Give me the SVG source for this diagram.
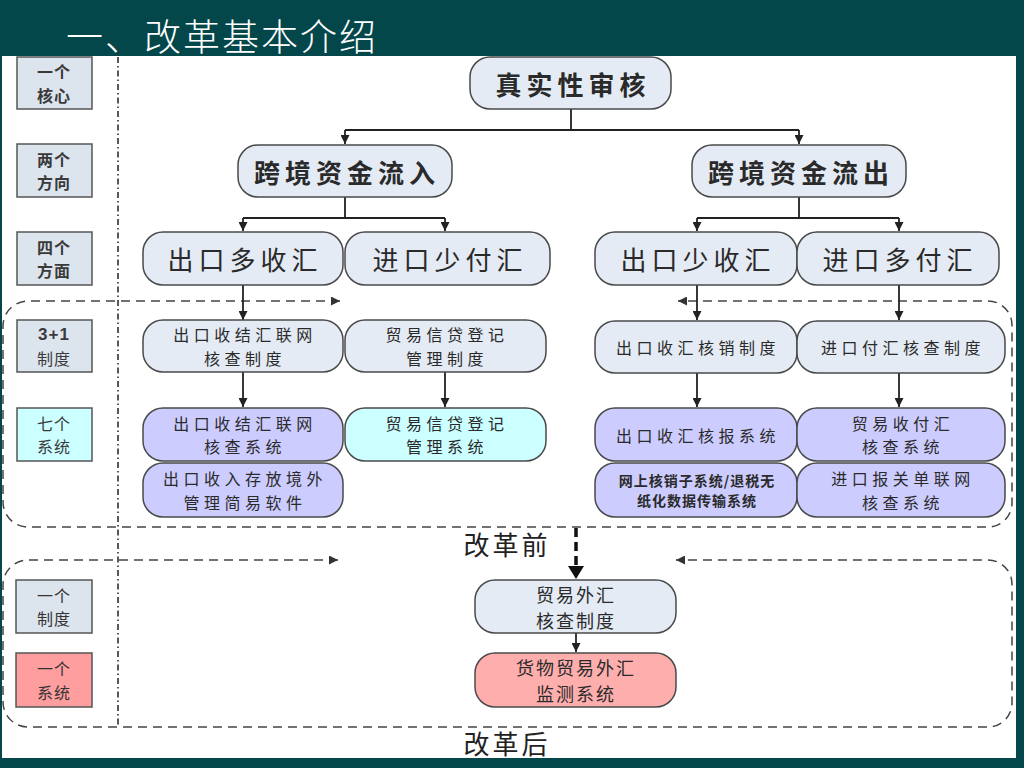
<svg xmlns="http://www.w3.org/2000/svg" width="1024" height="768" viewBox="0 0 1024 768">
<defs>
<style>
text{font-family:"Noto Sans CJK SC","Noto Sans",sans-serif;fill:#2a2a2a;text-anchor:middle;dominant-baseline:central}
.node{fill:#E4EBF4;stroke:#4a4a4a;stroke-width:1.5}
.sys{fill:#CCCCFF;stroke:#4a4a4a;stroke-width:1.5}
.cy{fill:#CCFFFF;stroke:#4a4a4a;stroke-width:1.5}
.pk{fill:#FFAEAE;stroke:#4a4a4a;stroke-width:1.5}
.lab{fill:#DCE4EE;stroke:#555;stroke-width:1.5}
.labc{fill:#CCFFFF;stroke:#555;stroke-width:1.5}
.labp{fill:#FF9E9E;stroke:#555;stroke-width:1.5}
.big{font-size:26px;font-weight:bold;letter-spacing:5px}
.mid{font-size:26px;letter-spacing:5px}
.sm{font-size:16px;letter-spacing:4.5px}
.xs{font-size:14px;letter-spacing:1px;font-weight:bold}
.lt{font-size:16px;font-weight:bold;fill:#3a3a3a;letter-spacing:1px}
.ln{font-size:16px;fill:#333;letter-spacing:1px}
.bt{font-size:18px;letter-spacing:2px}
.conn{fill:none;stroke:#222;stroke-width:1.8}
.dash{fill:none;stroke:#444;stroke-width:1.5;stroke-dasharray:9 6}
</style>
<marker id="ah" viewBox="0 0 10 10" refX="10" refY="5" markerWidth="5" markerHeight="5" markerUnits="strokeWidth" orient="auto-start-reverse">
<path d="M0,0 L10,5 L0,10 Z" fill="#222"/>
</marker>
<marker id="ahd" viewBox="0 0 10 10" refX="10" refY="5" markerWidth="6" markerHeight="6" markerUnits="strokeWidth" orient="auto-start-reverse">
<path d="M0,0 L10,5 L0,10 Z" fill="#333"/>
</marker>
</defs>
<rect x="0" y="0" width="1024" height="768" fill="#03474B"/>
<rect x="2" y="56" width="1014" height="702" fill="#FFFFFF"/>
<text x="222" y="35" style="font-size:37px;font-weight:300;fill:#FFFFFF;letter-spacing:2px">一、改革基本介绍</text>

<g id="connectors">
<line x1="118" y1="57" x2="118" y2="726" stroke="#222" stroke-width="1.5" stroke-dasharray="6 3 1.5 3"/>
<path class="dash" d="M340,301 H28 A25,25 0 0 0 3,326 V502 A25,25 0 0 0 28,527 H988 A24,24 0 0 0 1012,503 V325 A24,24 0 0 0 988,301 H678" marker-start="url(#ahd)" marker-end="url(#ahd)"/>
<path class="dash" d="M338,560 H28 A25,25 0 0 0 3,585 V702 A25,25 0 0 0 28,727 H988 A24,24 0 0 0 1012,703 V584 A24,24 0 0 0 988,560 H676" marker-start="url(#ahd)" marker-end="url(#ahd)"/>
<path class="conn" d="M571,109 V130 M345,130 H799"/>
<line class="conn" x1="345" y1="130" x2="345" y2="144" marker-end="url(#ah)"/>
<line class="conn" x1="799" y1="130" x2="799" y2="144" marker-end="url(#ah)"/>
<path class="conn" d="M345,197 V218 M243,218 H445 M799,197 V218 M697,218 H899"/>
<line class="conn" x1="243" y1="218" x2="243" y2="231" marker-end="url(#ah)"/>
<line class="conn" x1="445" y1="218" x2="445" y2="231" marker-end="url(#ah)"/>
<line class="conn" x1="697" y1="218" x2="697" y2="231" marker-end="url(#ah)"/>
<line class="conn" x1="899" y1="218" x2="899" y2="231" marker-end="url(#ah)"/>
<line class="conn" x1="243" y1="285" x2="243" y2="320" marker-end="url(#ah)"/>
<line class="conn" x1="697" y1="285" x2="697" y2="320" marker-end="url(#ah)"/>
<line class="conn" x1="899" y1="285" x2="899" y2="320" marker-end="url(#ah)"/>
<line class="conn" x1="243" y1="372" x2="243" y2="407" marker-end="url(#ah)"/>
<line class="conn" x1="445" y1="372" x2="445" y2="407" marker-end="url(#ah)"/>
<line class="conn" x1="697" y1="373" x2="697" y2="407" marker-end="url(#ah)"/>
<line class="conn" x1="899" y1="373" x2="899" y2="407" marker-end="url(#ah)"/>
<line x1="576" y1="528" x2="576" y2="567" stroke="#111" stroke-width="3.5" stroke-dasharray="9 5"/>
<path d="M568,566 L584,566 L576,579 Z" fill="#111"/>
<line class="conn" x1="576" y1="633" x2="576" y2="652" marker-end="url(#ah)"/>
</g>

<g id="label-core"><rect class="lab" x="17" y="57" width="75" height="52"/><text class="lt" x="54" y="71.3">一个<tspan x="54" dy="23.5">核心</tspan></text></g>
<g id="label-dir"><rect class="lab" x="17" y="144" width="75" height="53"/><text class="lt" x="54" y="158.8">两个<tspan x="54" dy="23.5">方向</tspan></text></g>
<g id="label-aspect"><rect class="lab" x="17" y="232" width="75" height="53"/><text class="lt" x="54" y="246.8">四个<tspan x="54" dy="23.5">方面</tspan></text></g>
<g id="label-31"><rect class="lab" x="17" y="320" width="75" height="52"/><text class="lt" x="54" y="334.3"><tspan style="font-family:'Liberation Sans',sans-serif;font-size:17px">3+1</tspan><tspan x="54" dy="23.5" style="font-weight:normal">制度</tspan></text></g>
<g id="label-seven"><rect class="labc" x="17" y="408" width="75" height="53"/><text class="lt" x="54" y="422.8" style="font-weight:normal">七个<tspan x="54" dy="23.5">系统</tspan></text></g>
<g id="label-onesys"><rect class="lab" x="16" y="580" width="76" height="53"/><text class="ln" x="54" y="594.8">一个<tspan x="54" dy="23.5">制度</tspan></text></g>
<g id="label-onesys2"><rect class="labp" x="16" y="653" width="76" height="54"/><text class="ln" x="54" y="668.3">一个<tspan x="54" dy="23.5">系统</tspan></text></g>

<g id="n-core"><rect class="node" x="470" y="57" width="201" height="52" rx="20"/><text class="big" x="573" y="83">真实性审核</text></g>
<g id="n-in"><rect class="node" x="238" y="145" width="214" height="52" rx="20"/><text class="big" x="347" y="171">跨境资金流入</text></g>
<g id="n-out"><rect class="node" x="692" y="145" width="214" height="52" rx="20"/><text class="big" x="801" y="171">跨境资金流出</text></g>

<g id="n-a1"><rect class="node" x="143" y="232" width="200" height="53" rx="20"/><text class="mid" x="245" y="258">出口多收汇</text></g>
<g id="n-a2"><rect class="node" x="345" y="232" width="205" height="53" rx="20"/><text class="mid" x="450" y="258">进口少付汇</text></g>
<g id="n-a3"><rect class="node" x="595" y="232" width="202" height="53" rx="20"/><text class="mid" x="698" y="258">出口少收汇</text></g>
<g id="n-a4"><rect class="node" x="797" y="232" width="202" height="53" rx="20"/><text class="mid" x="900" y="258">进口多付汇</text></g>

<g id="n-r1"><rect class="node" x="143" y="320" width="200" height="52" rx="20"/><text class="sm" x="245" y="334.3">出口收结汇联网<tspan x="245" dy="23.5">核查制度</tspan></text></g>
<g id="n-r2"><rect class="node" x="345" y="320" width="201" height="52" rx="20"/><text class="sm" x="447" y="334.3">贸易信贷登记<tspan x="447" dy="23.5">管理制度</tspan></text></g>
<g id="n-r3"><rect class="node" x="595" y="321" width="202" height="52" rx="20"/><text class="sm" x="698" y="347">出口收汇核销制度</text></g>
<g id="n-r4"><rect class="node" x="797" y="321" width="208" height="52" rx="20"/><text class="sm" x="903" y="347">进口付汇核查制度</text></g>

<g id="n-s1"><rect class="sys" x="143" y="408" width="200" height="53" rx="20"/><text class="sm" x="245" y="422.8">出口收结汇联网<tspan x="245" dy="23.5">核查系统</tspan></text></g>
<g id="n-s2"><rect class="cy" x="345" y="408" width="201" height="53" rx="20"/><text class="sm" x="447" y="422.8">贸易信贷登记<tspan x="447" dy="23.5">管理系统</tspan></text></g>
<g id="n-s3"><rect class="sys" x="595" y="408" width="202" height="53" rx="20"/><text class="sm" x="698" y="435">出口收汇核报系统</text></g>
<g id="n-s4"><rect class="sys" x="797" y="408" width="208" height="53" rx="20"/><text class="sm" x="903" y="422.8">贸易收付汇<tspan x="903" dy="23.5">核查系统</tspan></text></g>
<g id="n-s5"><rect class="sys" x="143" y="463" width="200" height="54" rx="20"/><text class="sm" x="245" y="478.3">出口收入存放境外<tspan x="245" dy="23.5">管理简易软件</tspan></text></g>
<g id="n-s6"><rect class="sys" x="595" y="463" width="202" height="54" rx="20"/><text class="xs" x="697" y="479.8">网上核销子系统/退税无<tspan x="697" dy="20.5">纸化数据传输系统</tspan></text></g>
<g id="n-s7"><rect class="sys" x="797" y="463" width="208" height="54" rx="20"/><text class="sm" x="903" y="478.3">进口报关单联网<tspan x="903" dy="23.5">核查系统</tspan></text></g>

<text x="507" y="543" style="font-size:26px;letter-spacing:3px;fill:#222">改革前</text>
<text x="507" y="742" style="font-size:26px;letter-spacing:3px;fill:#222">改革后</text>

<g id="n-new1"><rect class="node" x="475" y="580" width="201" height="53" rx="20"/><text class="bt" x="576" y="593.5">贸易外汇<tspan x="576" dy="26.3">核查制度</tspan></text></g>
<g id="n-new2"><rect class="pk" x="475" y="653" width="201" height="54" rx="20"/><text class="bt" x="576" y="667">货物贸易外汇<tspan x="576" dy="26.3">监测系统</tspan></text></g>
</svg>
